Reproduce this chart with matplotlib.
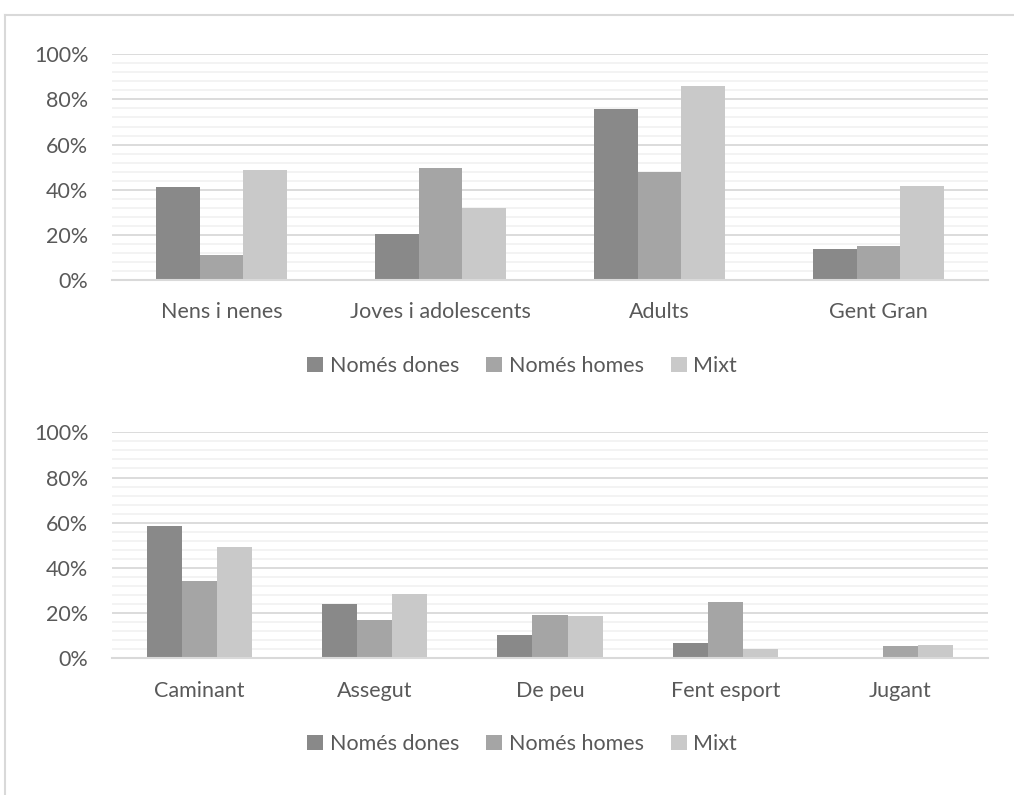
import matplotlib
matplotlib.use("Agg")
import matplotlib.pyplot as plt
from matplotlib.patches import Patch
from matplotlib.lines import Line2D
import numpy as np

# ---- data ----
series_names = ["Només dones", "Només homes", "Mixt"]
colors = ["#898989", "#a5a5a5", "#c9c9c9"]

age_groups = ["Nens i nenes", "Joves i adolescents", "Adults", "Gent Gran"]
age_dones = [41.1, 20.4, 75.6, 13.6]
age_homes = [11.2, 49.8, 47.8, 15.1]
age_mixt = [48.6, 32.0, 86.1, 41.5]

activities = ["Caminant", "Assegut", "De peu", "Fent esport", "Jugant"]
act_dones = [58.4, 23.9, 10.2, 6.8, 0.0]
act_homes = [34.3, 17.1, 19.2, 24.8, 5.4]
act_mixt = [49.2, 28.6, 18.7, 4.0, 5.8]

yticks = [0, 20, 40, 60, 80, 100]
ytick_labels = ["0%", "20%", "40%", "60%", "80%", "100%"]

W, H = 1014, 795
plt.rcParams['font.family'] = ['Lato', 'DejaVu Sans']
TXT = "#595959"
FS = 15.5

fig = plt.figure(figsize=(W / 100, H / 100), dpi=100)

# outer chart frame (top and left edges visible)
fig.add_artist(Line2D([5 / W, 1], [1 - 15 / H, 1 - 15 / H], color="#d9d9d9", lw=1.5,
                      transform=fig.transFigure))
fig.add_artist(Line2D([5 / W, 5 / W], [0, 1 - 15 / H], color="#d9d9d9", lw=1.5,
                      transform=fig.transFigure))


def make_panel(y_top, y_bot, cats, vals, legend_y):
    ax = fig.add_axes([112 / W, 1 - y_bot / H, (988 - 112) / W, (y_bot - y_top) / H])
    n = len(cats)
    x = np.arange(n)
    bw = 0.2
    for i, (v, c) in enumerate(zip(vals, colors)):
        ax.bar(x + (i - 1) * bw, v, width=bw, color=c, edgecolor="none", zorder=3)
    ax.set_xlim(-0.5, n - 0.5)
    ax.set_ylim(0, 100)
    ax.set_yticks(yticks)
    ax.set_yticklabels(ytick_labels)
    ax.set_yticks(np.arange(0, 101, 4), minor=True)
    ax.grid(axis="y", which="major", color="#d9d9d9", lw=1.3, zorder=1)
    ax.grid(axis="y", which="minor", color="#f2f2f2", lw=1.3, zorder=0)
    ax.set_xticks(x)
    ax.set_xticklabels(cats)
    for s in ["top", "right", "left"]:
        ax.spines[s].set_visible(False)
    ax.spines["bottom"].set_color("#d9d9d9")
    ax.spines["bottom"].set_linewidth(1.5)
    ax.spines["bottom"].set_zorder(4)
    ax.tick_params(axis="both", which="both", length=0, colors=TXT, labelsize=FS)
    ax.tick_params(axis="y", pad=17)
    ax.tick_params(axis="x", pad=16)
    handles = [Patch(facecolor=c, edgecolor="none") for c in colors]
    fig.legend(handles, series_names, loc="center", bbox_to_anchor=(522 / W, 1 - legend_y / H),
               ncol=3, frameon=False, fontsize=FS, labelcolor=TXT,
               handlelength=0.75, handleheight=0.75, handletextpad=0.3, columnspacing=1.25)
    return ax


make_panel(54.3, 280, age_groups, [age_dones, age_homes, age_mixt], 366)
make_panel(432.3, 658.3, activities, [act_dones, act_homes, act_mixt], 744)

fig.savefig("out.png", dpi=100, facecolor="white")
